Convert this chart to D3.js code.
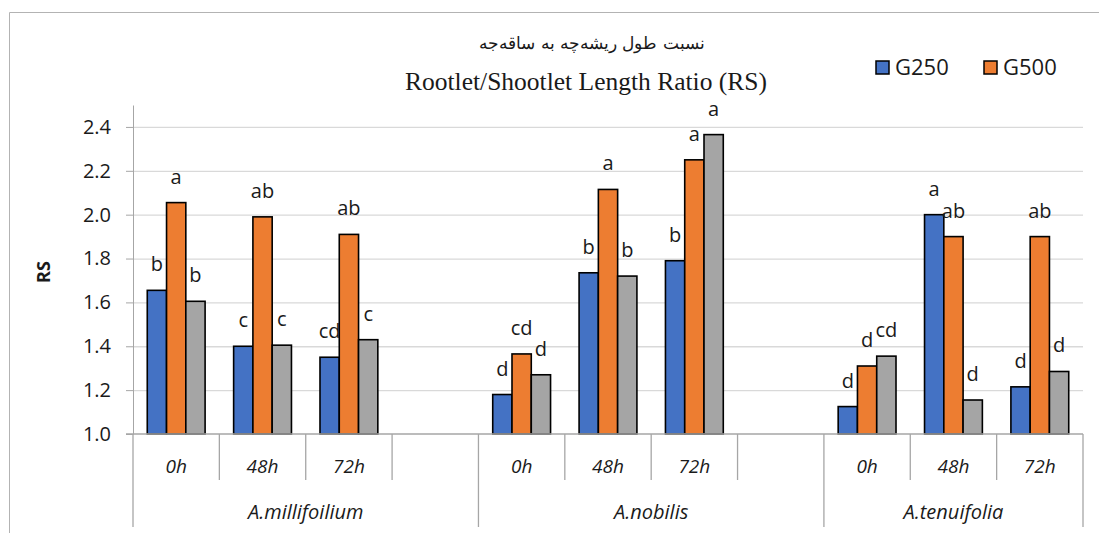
<!DOCTYPE html>
<html>
<head>
<meta charset="utf-8">
<script src="https://cdn.jsdelivr.net/npm/d3@7"></script>
<style>
  body { margin: 0; background: #fff; }
  svg { display: block; }
</style>
</head>
<body>
<svg id="chart"></svg>
<script>
// data
const species = ["A.millifoilium", "A.nobilis", "A.tenuifolia"];
const times = ["0h", "48h", "72h"];
const seriesNames = ["G250", "G500", "G750"];
const legendNames = ["G250", "G500"];   // only two shown in the original legend
const g250 = [1.655, 1.40, 1.35, 1.18, 1.735, 1.79, 1.125, 2.00, 1.215];
const g500 = [2.055, 1.99, 1.91, 1.365, 2.115, 2.25, 1.31, 1.90, 1.90];
const g750 = [1.605, 1.405, 1.43, 1.27, 1.72, 2.365, 1.355, 1.155, 1.285];
const g250Letters = ["b", "c", "cd", "d", "b", "b", "d", "a", "d"];
const g500Letters = ["a", "ab", "ab", "cd", "a", "a", "d", "ab", "ab"];
const g750Letters = ["b", "c", "c", "d", "b", "a", "cd", "d", "d"];
const yTicks = [1.0, 1.2, 1.4, 1.6, 1.8, 2.0, 2.2, 2.4];

class GroupedBars {

  constructor(_config) {
    this.config = {
      parentElement: _config.parentElement,
      containerWidth: _config.containerWidth || 1099,
      containerHeight: _config.containerHeight || 533,
      margin: _config.margin || {top: 105, right: 16, bottom: 99, left: 133}
    }
    this.initVis();
  }

  initVis() {
    let vis = this;
    vis.width = vis.config.containerWidth - vis.config.margin.left - vis.config.margin.right;
    vis.height = vis.config.containerHeight - vis.config.margin.top - vis.config.margin.bottom;

    vis.svg = d3.select(vis.config.parentElement)
        .attr('width', vis.config.containerWidth)
        .attr('height', vis.config.containerHeight);

    // outer frame (only top and left edges are inside the picture)
    vis.svg.append('path')
        .attr('d', 'M9.5,533V12.5H1099')
        .attr('fill', 'none')
        .attr('stroke', '#b3b3b3');

    vis.chart = vis.svg.append('g')
        .attr('transform', `translate(${vis.config.margin.left},${vis.config.margin.top})`);

    // slots: each species gets 3 time slots plus a blank slot, except the last
    vis.slots = [];
    species.forEach((s, i) => {
      times.forEach(t => vis.slots.push({species: s, time: t}));
      if (i < species.length - 1) vis.slots.push({species: s, time: ''});
    });

    vis.x0 = d3.scaleBand()
        .domain(d3.range(vis.slots.length))
        .range([0, vis.width])
        .padding(0);
    vis.x1 = d3.scaleBand()
        .domain(seriesNames)
        .range([0, vis.x0.bandwidth()])
        .paddingInner(0)
        .paddingOuter(0.74);
    vis.y = d3.scaleLinear()
        .domain([1.0, 2.5])
        .range([vis.height, 0]);
    vis.color = d3.scaleOrdinal()
        .domain(seriesNames)
        .range(['#4472c4', '#ed7d31', '#a5a5a5']);

    vis.updateVis();
  }

  updateVis() {
    let vis = this;
    const vals = [g250, g500, g750];
    const lets = [g250Letters, g500Letters, g750Letters];
    vis.data = [];
    species.forEach((s, si) => {
      times.forEach((t, ti) => {
        const k = si * times.length + ti;
        const slot = si * 4 + ti;
        seriesNames.forEach((name, j) => {
          vis.data.push({slot: slot, series: name, value: vals[j][k], letter: lets[j][k]});
        });
      });
    });
    vis.renderVis();
  }

  renderVis() {
    let vis = this;

    // gridlines
    vis.chart.append('g')
        .attr('class', 'grid')
        .call(d3.axisLeft(vis.y).tickValues(yTicks.slice(1)).tickSize(-vis.width).tickFormat(''))
        .call(g => g.select('.domain').remove())
        .call(g => g.selectAll('line').attr('stroke', '#d9d9d9').attr('stroke-width', 1.3));

    // y axis
    vis.chart.append('g')
        .call(d3.axisLeft(vis.y).tickValues(yTicks).tickSize(7).tickSizeOuter(0).tickFormat(d3.format('.1f')))
        .call(g => g.select('.domain').attr('stroke', '#a6a6a6'))
        .call(g => g.selectAll('.tick line').attr('stroke', '#a6a6a6'))
        .call(g => g.selectAll('text')
            .attr('x', -22)
            .attr('font-family', '"Open Sans", sans-serif')
            .attr('font-size', 20)
            .attr('fill', '#1a1a1a'));

    // y title
    vis.svg.append('text')
        .attr('transform', 'translate(50,272) rotate(-90)')
        .attr('text-anchor', 'middle')
        .attr('font-family', '"Open Sans", sans-serif')
        .attr('font-weight', 'bold')
        .attr('font-size', 18)
        .attr('fill', '#1a1a1a')
        .text('RS');

    // bars
    vis.chart.selectAll('.bar')
        .data(vis.data)
        .join('rect')
        .attr('class', 'bar')
        .attr('x', d => vis.x0(d.slot) + vis.x1(d.series))
        .attr('y', d => vis.y(d.value))
        .attr('width', vis.x1.bandwidth())
        .attr('height', d => vis.height - vis.y(d.value))
        .attr('fill', d => vis.color(d.series))
        .attr('stroke', '#000')
        .attr('stroke-width', 1.6);

    // significance letters
    vis.chart.selectAll('.letter')
        .data(vis.data)
        .join('text')
        .attr('class', 'letter')
        .attr('x', d => vis.x0(d.slot) + vis.x1(d.series) + vis.x1.bandwidth() / 2)
        .attr('y', d => vis.y(d.value) - 19)
        .attr('text-anchor', 'middle')
        .attr('font-family', '"Open Sans", sans-serif')
        .attr('font-size', 20)
        .attr('fill', '#1a1a1a')
        .text(d => d.letter);

    // x axis: baseline and slot separators
    const axisG = vis.chart.append('g').attr('transform', `translate(0,${vis.height})`);
    axisG.append('line')
        .attr('x1', -7).attr('x2', vis.width)
        .attr('stroke', '#a6a6a6').attr('stroke-width', 1.3);

    const bounds = d3.range(vis.slots.length + 1);
    axisG.selectAll('.sep')
        .data(bounds)
        .join('line')
        .attr('class', 'sep')
        .attr('x1', i => i < vis.slots.length ? vis.x0(i) : vis.width)
        .attr('x2', i => i < vis.slots.length ? vis.x0(i) : vis.width)
        .attr('y1', 0)
        .attr('y2', i => (i % 4 === 0 || i === vis.slots.length) ? 93 : 46)
        .attr('stroke', '#a6a6a6')
        .attr('stroke-width', 1.3);

    axisG.selectAll('.time')
        .data(vis.slots.filter(s => s.time !== ''))
        .join('text')
        .attr('class', 'time')
        .attr('x', s => vis.x0(vis.slots.indexOf(s)) + vis.x0.bandwidth() / 2)
        .attr('y', 39)
        .attr('text-anchor', 'middle')
        .attr('font-family', '"Open Sans", sans-serif')
        .attr('font-style', 'italic')
        .attr('font-size', 19)
        .attr('fill', '#1a1a1a')
        .text(s => s.time);

    axisG.selectAll('.species')
        .data(species)
        .join('text')
        .attr('class', 'species')
        .attr('x', (s, i) => {
          const first = i * 4;
          const last = Math.min(first + 4, vis.slots.length);
          const x2 = last < vis.slots.length ? vis.x0(last) : vis.width;
          return (vis.x0(first) + x2) / 2;
        })
        .attr('y', 85)
        .attr('text-anchor', 'middle')
        .attr('font-family', '"Open Sans", sans-serif')
        .attr('font-style', 'italic')
        .attr('font-size', 20)
        .attr('fill', '#1a1a1a')
        .text(s => s);

    // titles
    vis.svg.append('text')
        .attr('x', 592).attr('y', 49)
        .attr('text-anchor', 'middle')
        .attr('direction', 'rtl')
        .attr('font-family', '"DejaVu Serif", "Liberation Serif", serif')
        .attr('font-size', 17)
        .attr('fill', '#1a1a1a')
        .text('نسبت طول ریشه‌چه به ساقه‌جه');
    vis.svg.append('text')
        .attr('x', 586).attr('y', 90)
        .attr('text-anchor', 'middle')
        .attr('font-family', '"Liberation Serif", serif')
        .attr('font-size', 25.5)
        .attr('fill', '#1a1a1a')
        .text('Rootlet/Shootlet Length Ratio (RS)');

    // legend
    const legend = vis.svg.append('g').attr('transform', 'translate(876,61)');
    const item = legend.selectAll('.item')
        .data(legendNames)
        .join('g')
        .attr('class', 'item')
        .attr('transform', (d, i) => `translate(${i * 108},0)`);
    item.append('rect')
        .attr('width', 13).attr('height', 13)
        .attr('fill', d => vis.color(d))
        .attr('stroke', '#000').attr('stroke-width', 1.5);
    item.append('text')
        .attr('x', 19).attr('y', 14)
        .attr('font-family', '"Open Sans", sans-serif')
        .attr('font-size', 22)
        .attr('fill', '#1a1a1a')
        .text(d => d);
  }
}

new GroupedBars({parentElement: '#chart'});
</script>
</body>
</html>
